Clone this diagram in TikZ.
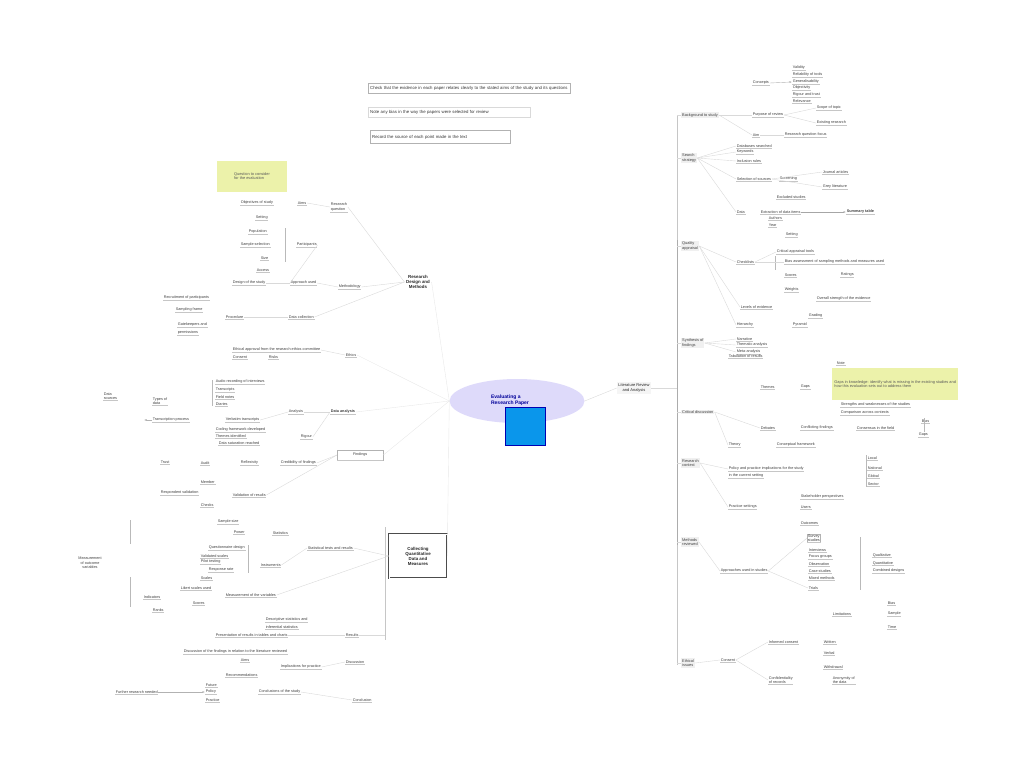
\documentclass[tikz,border=0pt]{standalone}
\usepackage{fontspec}
\setmainfont{Liberation Sans}
\usepackage{tikz}
\usetikzlibrary{arrows.meta,shapes.geometric,positioning}
\definecolor{lavender}{RGB}{222,218,250}
\definecolor{notey}{RGB}{236,242,170}
\definecolor{centblue}{RGB}{10,150,235}

\begin{document}
\begin{tikzpicture}[x=1pt,y=-1pt]
    \tikzset{sub/.style={font=\fontsize{3.8}{4.4}\selectfont, text=black!75, inner sep=0.6pt, anchor=west, align=left,
            append after command={(\tikzlastnode.south west) edge[draw=gray!45, line width=0.3pt] (\tikzlastnode.south east)}},
        topic/.style={font=\fontsize{3.9}{4.5}\selectfont, text=black!75, fill=gray!12, inner sep=1pt, anchor=west, align=left},
        major/.style={font=\fontsize{4.4}{5}\selectfont\bfseries, text=black!85, inner sep=1.5pt, align=center},
        link/.style={draw=gray!30, line width=0.4pt},
        spine/.style={draw=gray!45, line width=1pt},
        brace/.style={draw=gray!55, line width=0.5pt},
        tbox/.style={draw=gray!60, font=\fontsize{4.3}{5}\selectfont, text=black!80, inner xsep=2pt, inner ysep=1.5pt, anchor=west, align=left},
        note/.style={fill=notey, font=\fontsize{3.9}{4.6}\selectfont, text=black!65, inner sep=2pt, align=left}}
    \useasboundingbox (0,0) rectangle (1024,768);

    \node[tbox, text width=198, minimum height=10] (tb1) at (368,88) {Check that the evidence in each paper relates clearly to the stated aims of the study and its questions};
    \node[tbox, draw=gray!30, text width=158, minimum height=10] (tb2) at (368,112) {Note any bias in the way the papers were selected for review};
    \node[tbox, text width=136, minimum height=13] (tb3) at (370,137) {Record the source of each point made in the text};

    \node[ellipse, fill=lavender, minimum width=135, minimum height=44, inner sep=0] (cent) at (517,401) {};
    \node[font=\fontsize{5}{5.6}\selectfont\bfseries, text=blue!60!black, align=left] (ctext) at (510,400) {Evaluating a\\Research Paper};
    \node[fill=centblue, draw=blue!70!black, minimum width=40, minimum height=38, inner sep=0] (cimg) at (525,426) {};

    \node[major, fill=gray!8, font=\fontsize{4}{4.6}\selectfont] (rmain) at (634,388) {Literature Review\\and Analysis};
    \coordinate (rtop) at (677,115);
    \coordinate (rbot) at (677,665);
    \draw[spine] (rtop) -- (rbot);
    \draw[spine, draw=gray!65] (677,240) -- (677,545);
    \draw[link] (cent.east) -- (rmain.west);
    \draw[link] (rmain.east) -- (rmain.east -| rtop);

    \foreach \n/\y/\t in {r1/115/Background to study, r2/158/{Search\\strategy}, r3/246/{Quality\\appraisal}, r4/343/{Synthesis of\\findings},
        r6/412/Critical discussion, r7/463/{Research\\context}, r8/542/{Methods\\reviewed}, r9/663/{Ethical\\issues}}
    {
        \node[topic] (\n) at (681,\y) {\t};
        \draw[link] (\n.west -| rtop) -- (\n.west);
    }

    \foreach \n/\x/\y/\t in {ra/752/83/Concepts, ra1/792/68/Validity, ra2/792/75/Reliability of tools, ra3/792/82/Generalisability,
        ra4/792/88/Objectivity, ra5/792/95/Rigour and trust, ra6/792/101/Relevance,
        rb1/752/115/Purpose of review, rb2/816/108/Scope of topic, rb3/816/123/Existing research, rb4/752/135/Aim, rb5/784/135/Research question focus,
        rc1/736/146/Databases searched, rc2/736/152/Keywords, rc3/736/161/Inclusion rules, rc4/736/179/Selection of sources,
        rc5/779/179/Screening, rc6/822/172/Journal articles, rc7/822/187/Grey literature, rc8/776/197/Excluded studies,
        rc9/736/212/Data, rc10/760/212/Extraction of data items, rc12/768/218/Authors, rc13/768/225/Year, rc14/785/235/Setting,
        rd1/736/262/Checklists, rd2/776/252/Critical appraisal tools, rd3/784/262/Bias assessment of sampling methods and measures used,
        rd4/784/275/Scores, rd5/840/275/Ratings, rd6/784/290/Weights, rd7/816/299/Overall strength of the evidence,
        rd8/740/307/Levels of evidence, rd9/808/316/Grading, rd10/736/325/Hierarchy, rd11/792/325/Pyramid,
        re1/736/339/Narrative, re2/736/345/Thematic analysis, re3/736/352/Meta-analysis, re4/728/356/Tabulation of results,
        rf1/760/387/Themes, rf2/800/387/Gaps, rf3/836/363/Note,
        rg1/840/405/Strengths and weaknesses of the studies, rg2/840/413/Comparison across contexts, rg3/921/421/Bias, rg4/918/435/Gaps,
        rg5/760/428/Debates, rg6/800/428/Conflicting findings, rg7/856/428/Consensus in the field,
        rg8/728/445/Theory, rg9/776/445/Conceptual framework,
        rh1/728/469/Policy and practice implications for the study, rh2/728/476/in the current setting,
        rh3/867/458/Local, rh4/867/468/National, rh5/867/476/Global, rh6/867/484/Sector,
        rh7/800/497/Stakeholder perspectives, rh8/728/507/Practice settings, rh9/800/507/Users, rh10/800/523/Outcomes,
        ri2/808/550/Interviews, ri3/808/557/Focus groups, ri4/808/564/Observation, ri5/808/571/Case studies, ri6/808/578/Mixed methods,
        ri7/808/588/Trials, ri8/720/571/Approaches used in studies, ri9/872/555/Qualitative, ri10/872/563/Quantitative,
        ri11/872/571/Combined designs, ri12/832/614/Limitations, ri13/887/603/Bias, ri14/887/614/Sample, ri15/887/627/Time,
        rj1/720/660/Consent, rj2/768/642/Informed consent, rj3/823/642/Written, rj4/823/653/Verbal, rj5/823/667/Withdrawal,
        rj6/768/680/{Confidentiality\\of records}, rj7/832/680/{Anonymity of\\the data}}
    {
        \node[sub] (\n) at (\x,\y) {\t};
    }
    \node[sub, draw=gray!60, append after command={}] (ri1) at (807,538) {Survey\\studies};
    \node[sub, font=\fontsize{3.8}{4.4}\selectfont\bfseries] (rc11) at (846,212) {Summary table};
    \node[note, anchor=north west, minimum width=126, minimum height=32] (rnote) at (832,368)
        {Gaps in knowledge: identify what is missing in the existing studies and\\how this evaluation sets out to address them};

    \draw[-{Latex[length=2.5pt]}, gray!60] (ra.east) -- (ra3.west);
    \draw[-{Latex[length=2.5pt]}, gray!70, line width=0.6pt] (rc10.east) -- (rc11.west);
    \draw[brace] (860,537) -- (860,590);
    \draw[brace] (775,256) -- (775,270);
    \draw[brace] (866,455) -- (866,487);
    \draw[brace] (924,418) -- (924,432);
    \foreach \a/\b in {r1/rb1, rb1/rb2, rb1/rb3, r1/rb4, rb4/rb5, r2/rc1, r2/rc2, r2/rc3, r2/rc4, rc4/rc6, rc4/rc7, r2/rc9,
        r3/rd1, rd1/rd2, rd1/rd3, r3/rd8, r3/rd10, r4/re1, r4/re2, r4/re3, r6/rg5, r6/rg8, r7/rh1, r7/rh8, r8/ri8, ri8/ri1, ri8/ri7, r9/rj1, rj1/rj2, rj1/rj6}
    {
        \draw[link] (\a.east) -- (\b.west);
    }

    \node[major] (ldes) at (418,282) {Research\\Design and\\Methods};
    \node[major, draw=black!70, double=white, double distance=1pt, line width=0.5pt, minimum width=58, minimum height=44] (lcol) at (418,556) {Collecting\\Quantitative\\Data and\\Measures};
    \node[major, font=\fontsize{3.8}{4.4}\selectfont, text=black!75] (lmeas) at (90,563) {Measurement\\of outcome\\variables};
    \node[note, minimum width=70, minimum height=31] (lnote) at (252,176) {Question to consider\\for the evaluation};
    \coordinate (ltop) at (385,527);
    \coordinate (lbot) at (385,640);
    \draw[link, draw=gray!45, line width=0.6pt] (ltop) -- (lbot);

    \foreach \n/\x/\y/\t in {la1/240/203/Objectives of study, la2/297/203/Aims, la3/330/207/{Research\\question},
        la4/255/218/Setting, la5/248/232/Population, la6/240/245/Sample selection, la7/260/258/Size, la8/256/270/Access, la9/296/245/Participants,
        la10/232/283/Design of the study, la11/290/283/Approach used, la12/338/287/Methodology,
        lb1/163/298/Recruitment of participants, lb2/175/310/Sampling frame, lb3/225/317/Procedure, lb4/288/317/Data collection,
        lb5/177/325/Gatekeepers and, lb6/177/333/permissions, lb7/232/350/Ethical approval from the research ethics committee,
        lb8/232/357/Consent, lb9/268/357/Risks, lb10/345/355/Ethics,
        lc1/215/382/Audio recording of interviews, lc2/215/390/Transcripts, lc3/215/397/Field notes, lc4/215/404/Diaries,
        lc5/103/396/{Data\\sources}, lc6/152/401/{Types of\\data},
        lc7/152/420/Transcription process, lc8/225/420/Verbatim transcripts, lc9/215/430/Coding framework developed,
        lc10/215/436/Themes identified, lc11/218/443/Data saturation reached, lc12/288/412/Analysis, lc14/300/437/Rigour,
        ld1/160/462/Trust, ld2/200/463/Audit, ld3/240/463/Reflexivity, ld4/280/463/Credibility of findings,
        ld5/200/482/Member, ld6/160/493/Respondent validation, ld7/200/505/Checks, ld8/232/495/Validation of results,
        le1/217/522/Sample size, le2/233/532/Power, le3/272/533/Statistics, le4/307/548/Statistical tests and results,
        le5/208/548/Questionnaire design, le6/200/556/Validated scales, le7/200/562/Pilot testing, le8/208/570/Response rate,
        le9/260/565/Instruments, le10/200/578/Scales, le11/180/588/Likert scales used, le12/225/595/Measurement of the variables,
        le13/143/597/Indicators, le14/192/603/Scores, le15/152/610/Ranks,
        le16/265/620/Descriptive statistics and, le17/265/627/inferential statistics,
        lf1/215/635/Presentation of results in tables and charts, lf2/345/635/Results,
        lf3/183/652/Discussion of the findings in relation to the literature reviewed, lf4/240/660/Aims,
        lf5/280/667/Implications for practice, lf6/345/662/Discussion, lf7/225/675/Recommendations,
        lg1/205/685/Future, lg2/205/692/Policy, lg3/205/700/Practice, lg4/115/692/Further research needed,
        lg5/258/692/Conclusions of the study, lg6/352/700/Conclusion}
    {
        \node[sub] (\n) at (\x,\y) {\t};
    }
    \node[sub, font=\fontsize{3.8}{4.4}\selectfont\bfseries] (lc13) at (330,412) {Data analysis};
    \node[sub, draw=gray!60, append after command={}, minimum width=46, minimum height=10] (ld9) at (337,455) {Findings};

    \draw[brace] (285,228) -- (285,262);
    \draw[brace] (212,380) -- (212,406);
    \draw[brace] (130,520) -- (130,544);
    \draw[brace] (130,577) -- (130,607);
    \draw[brace] (248,545) -- (248,573);
    \foreach \a in {ldes, lb10, lc13, ld9, lcol} {
        \draw[link, draw=gray!18] (cent.west) -- (\a.east);
    }
    \foreach \a in {lf2} {
        \draw[link] (\a.east) -- (\a.east -| ltop);
    }
    \foreach \a/\b in {la3/ldes, la12/ldes, lb4/ldes, la2/la3, la9/la11, la10/la11, la11/la12, lb3/lb4, lb7/lb10,
        lc12/lc13, lc14/lc13, lc8/lc12, ld4/ld9, ld8/ld9, le4/lcol, le9/le4, le12/lcol, lf1/lf2, lf5/lf6, lg5/lg6}
    {
        \draw[link] (\a.east) -- (\b.west);
    }
    \draw[-{Latex[length=2.5pt]}, gray!60] (lc7.west) -- ++(-8,0);
    \draw[-{Latex[length=2.5pt]}, gray!60] (lg4.east) -- (lg2.west);
\end{tikzpicture}
\end{document}
